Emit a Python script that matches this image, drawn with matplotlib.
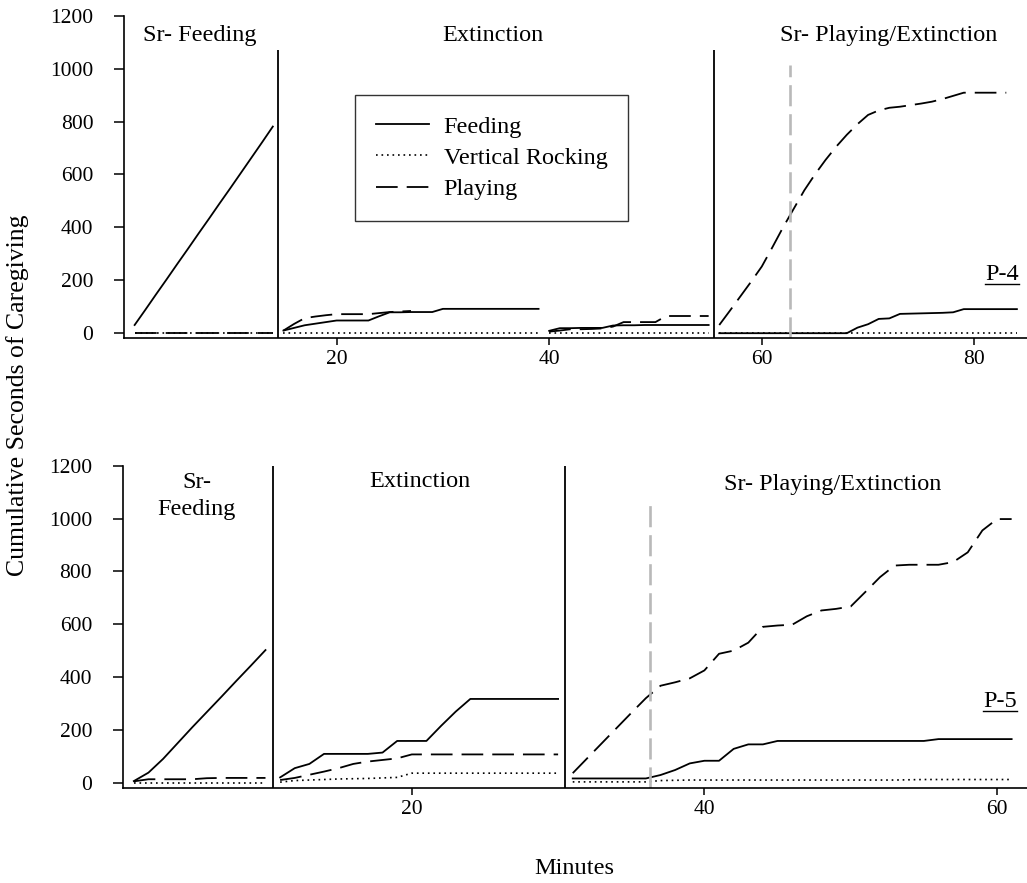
import numpy as np
import matplotlib
matplotlib.use('Agg')
import matplotlib.pyplot as plt
from matplotlib.lines import Line2D

plt.rcParams['font.family'] = ['Liberation Serif', 'DejaVu Serif']

# ------------------------------------------------------------------ data
series_names = ['Feeding', 'Vertical Rocking', 'Playing']
phase_labels_p4 = ['Sr- Feeding', 'Extinction', 'Sr- Playing/Extinction']
phase_labels_p5 = ['Sr-\nFeeding', 'Extinction', 'Sr- Playing/Extinction']
y_ticks = [0, 200, 400, 600, 800, 1000, 1200]
p4_x_ticks = [20, 40, 60, 80]
p5_x_ticks = [20, 40, 60]

# ---- P-4 ----
p4_min_srfeed = [1, 2, 3, 4, 5, 6, 7, 8, 9, 10, 11, 12, 13, 14]
p4_feed_srfeed = [31, 88, 146, 203, 261, 318, 376, 433, 491, 548, 606, 664, 722, 781]
p4_rock_srfeed = [0, 0, 0, 0, 0, 0, 0, 0, 0, 0, 0, 0, 0, 0]
p4_play_srfeed = [0, 0, 0, 0, 0, 0, 0, 0, 0, 0, 0, 0, 0, 0]

p4_min_ext1 = [15, 16, 17, 18, 19, 20, 21, 22, 23, 24, 25, 26, 27, 28, 29,
               30, 31, 32, 33, 34, 35, 36, 37, 38, 39]
p4_feed_ext1 = [10, 20, 30, 36, 42, 48, 48, 48, 48, 64, 79, 79, 80, 80, 80,
                92, 92, 92, 92, 92, 92, 92, 92, 92, 92]
p4_rock_ext1 = [0, 0, 0, 0, 0, 0, 0, 0, 0, 0, 0, 0, 0, 0, 0,
                0, 0, 0, 0, 0, 0, 0, 0, 0, 0]
p4_min_ext1_play = [15, 16, 17, 18, 19, 20, 21, 22, 23, 24, 25, 26, 27]
p4_play_ext1 = [10, 35, 57, 63, 68, 72, 72, 72, 72, 76, 80, 82, 84]

p4_min_ext2 = [40, 41, 42, 43, 44, 45, 46, 47, 48, 49, 50, 51, 52, 53, 54, 55]
p4_feed_ext2 = [9, 19, 19, 20, 20, 20, 29, 30, 30, 31, 31, 31, 31, 31, 31, 31]
p4_rock_ext2 = [0, 0, 0, 0, 0, 0, 0, 0, 0, 0, 0, 0, 0, 0, 0, 0]
p4_play_ext2 = [6, 10, 15, 15, 16, 18, 25, 42, 42, 42, 42, 65, 65, 65, 65, 65]

p4_min_srplay = [56, 57, 58, 59, 60, 61, 62, 63, 64, 65, 66, 67, 68, 69, 70,
                 71, 72, 73, 74, 75, 76, 77, 78, 79, 80, 81, 82, 83, 84]
p4_feed_srplay = [0, 0, 0, 0, 0, 0, 0, 0, 0, 0, 0, 0, 0, 21, 34,
                  54, 56, 73, 74, 75, 76, 77, 79, 91, 91, 91, 91, 91, 91]
p4_rock_srplay = [0, 0, 0, 0, 0, 0, 0, 0, 0, 0, 0, 0, 0, 0, 0,
                  0, 0, 0, 0, 0, 0, 0, 0, 0, 0, 0, 0, 0, 0]
p4_min_srplay_play = [56, 57, 58, 59, 60, 61, 62, 63, 64, 65, 66, 67, 68, 69,
                      70, 71, 72, 73, 74, 75, 76, 77, 78, 79, 80, 81, 82, 83]
p4_play_srplay = [31, 85, 140, 195, 252, 325, 400, 470, 540, 600, 655, 705, 750, 790,
                  825, 842, 852, 856, 862, 868, 875, 885, 897, 909, 909, 909, 909, 909]

p4_phase_changes = [14.5, 55.5]
p4_criterion = 62.7

# ---- P-5 ----
p5_min_srfeed = [1, 2, 3, 4, 5, 6, 7, 8, 9, 10]
p5_feed_srfeed = [6, 38, 90, 150, 210, 268, 326, 385, 443, 502]
p5_rock_srfeed = [0, 0, 0, 0, 0, 0, 0, 0, 0, 0]
p5_play_srfeed = [5, 13, 13, 13, 13, 17, 18, 18, 18, 18]

p5_min_ext = [11, 12, 13, 14, 15, 16, 17, 18, 19, 20,
              21, 22, 23, 24, 25, 26, 27, 28, 29, 30]
p5_feed_ext = [20, 55, 71, 109, 109, 109, 109, 114, 158, 158,
               158, 215, 269, 317, 317, 317, 317, 317, 317, 317]
p5_rock_ext = [2, 8, 10, 12, 14, 15, 16, 18, 20, 36,
               36, 36, 36, 36, 36, 36, 36, 36, 36, 36]
p5_play_ext = [10, 18, 30, 42, 55, 71, 80, 86, 92, 107,
               107, 107, 107, 107, 107, 107, 107, 107, 107, 107]

p5_min_srplay = [31, 32, 33, 34, 35, 36, 37, 38, 39, 40, 41, 42, 43, 44, 45, 46,
                 47, 48, 49, 50, 51, 52, 53, 54, 55, 56, 57, 58, 59, 60, 61]
p5_feed_srplay = [16, 16, 16, 16, 16, 16, 29, 48, 73, 83, 83, 128, 145, 145, 158, 158,
                  158, 158, 158, 158, 158, 158, 158, 158, 158, 165, 165, 165, 165, 165, 165]
p5_rock_srplay = [3, 3, 3, 3, 3, 3, 8, 9, 10, 10, 10, 10, 10, 10, 10, 10,
                  10, 10, 10, 10, 10, 10, 10, 11, 12, 12, 12, 12, 12, 12, 12]
p5_play_srplay = [36, 93, 150, 207, 264, 320, 367, 380, 395, 425, 488, 500, 530, 590, 595, 598,
                  630, 652, 658, 667, 722, 778, 822, 825, 825, 825, 835, 872, 955, 998, 998]

p5_phase_changes = [10.5, 30.5]
p5_criterion = 36.3

# ------------------------------------------------------------------ styles
STY = {
    'Feeding': dict(color='black', lw=1.3, ls='-'),
    'Vertical Rocking': dict(color='black', lw=1.2, ls=(0, (1, 2.3))),
    'Playing': dict(color='black', lw=1.3, ls=(0, (12, 5))),
}
GRAY = dict(color='#b9b9b9', lw=1.9, ls=(0, (8, 3)))
TXT = 17.5
TICK = 15.5

fig = plt.figure(figsize=(10.27, 8.83), dpi=100)
W, H = 1027, 883


def make_axes(left_px, top_px, bottom_px):
    ax = fig.add_axes([left_px / W, 1 - bottom_px / H, (W - left_px) / W,
                       (bottom_px - top_px) / H])
    for s in ['top', 'right']:
        ax.spines[s].set_visible(False)
    for s in ['left', 'bottom']:
        ax.spines[s].set_linewidth(1.2)
    ax.tick_params(axis='y', direction='out', length=7, width=1.1, pad=15,
                   labelsize=TICK)
    ax.tick_params(axis='x', direction='out', length=5, width=1.1, pad=4,
                   labelsize=TICK)
    ax.set_yticks(y_ticks)
    return ax


def draw(ax, x, y, name):
    ax.plot(x, y, **STY[name])


# ---- top panel (P-4) ----
ax1 = make_axes(124, 15.7, 337.7)
ax1.set_xlim(0, 84.95)
ax1.set_ylim(-17, 1200)
ax1.set_xticks(p4_x_ticks)

draw(ax1, p4_min_srfeed, p4_rock_srfeed, 'Vertical Rocking')
draw(ax1, p4_min_srfeed, p4_play_srfeed, 'Playing')
draw(ax1, p4_min_srfeed, p4_feed_srfeed, 'Feeding')
draw(ax1, p4_min_ext1, p4_rock_ext1, 'Vertical Rocking')
draw(ax1, p4_min_ext1_play, p4_play_ext1, 'Playing')
draw(ax1, p4_min_ext1, p4_feed_ext1, 'Feeding')
draw(ax1, p4_min_ext2, p4_rock_ext2, 'Vertical Rocking')
draw(ax1, p4_min_ext2, p4_play_ext2, 'Playing')
draw(ax1, p4_min_ext2, p4_feed_ext2, 'Feeding')
draw(ax1, p4_min_srplay, p4_rock_srplay, 'Vertical Rocking')
draw(ax1, p4_min_srplay_play, p4_play_srplay, 'Playing')
draw(ax1, p4_min_srplay, p4_feed_srplay, 'Feeding')

ax1.vlines(p4_phase_changes, -17, 1070, color='black', lw=1.3)
ax1.vlines([p4_criterion], -17, 1015, **GRAY)

ax1.text(7.15, 1125, phase_labels_p4[0], ha='center', va='center', fontsize=TXT)
ax1.text(34.7, 1125, phase_labels_p4[1], ha='center', va='center', fontsize=TXT)
ax1.text(71.9, 1125, phase_labels_p4[2], ha='center', va='center', fontsize=TXT)
lab4 = ax1.text(82.6, 220, 'P-4', ha='center', va='center', fontsize=TXT)

# ---- bottom panel (P-5) ----
ax2 = make_axes(122.7, 465.7, 787.7)
ax2.set_xlim(0.24, 62.05)
ax2.set_ylim(-19, 1200)
ax2.set_xticks(p5_x_ticks)

draw(ax2, p5_min_srfeed, p5_rock_srfeed, 'Vertical Rocking')
draw(ax2, p5_min_srfeed, p5_play_srfeed, 'Playing')
draw(ax2, p5_min_srfeed, p5_feed_srfeed, 'Feeding')
draw(ax2, p5_min_ext, p5_rock_ext, 'Vertical Rocking')
draw(ax2, p5_min_ext, p5_play_ext, 'Playing')
draw(ax2, p5_min_ext, p5_feed_ext, 'Feeding')
draw(ax2, p5_min_srplay, p5_rock_srplay, 'Vertical Rocking')
draw(ax2, p5_min_srplay, p5_play_srplay, 'Playing')
draw(ax2, p5_min_srplay, p5_feed_srplay, 'Feeding')

ax2.vlines(p5_phase_changes, -19, 1200, color='black', lw=1.3)
ax2.vlines([p5_criterion], -19, 1052, **GRAY)

ax2.text(5.3, 1085, phase_labels_p5[0], ha='center', va='center', fontsize=TXT,
         linespacing=1.35)
ax2.text(20.55, 1139, phase_labels_p5[1], ha='center', va='center', fontsize=TXT)
ax2.text(48.8, 1127, phase_labels_p5[2], ha='center', va='center', fontsize=TXT)
lab5 = ax2.text(60.2, 307, 'P-5', ha='center', va='center', fontsize=TXT)

# ---- shared labels ----
fig.text(18 / W, 1 - 395 / H, 'Cumulative Seconds of Caregiving', rotation=90,
         ha='center', va='center', fontsize=18.5)
fig.text(574 / W, 1 - 868 / H, 'Minutes', ha='center', va='center', fontsize=TXT)

# ---- legend ----
handles = [Line2D([], [], **STY[n]) for n in series_names]
fig.legend(handles, series_names, loc='upper left',
           bbox_to_anchor=(355 / W, 1 - 95 / H), borderaxespad=0,
           fontsize=TXT, frameon=True, fancybox=False, edgecolor='#333333',
           handlelength=2.2, handletextpad=0.6, labelspacing=0.38,
           borderpad=0.85, framealpha=1)
fig.legends[0].get_frame().set_linewidth(1.0)

# ---- underline the participant labels ----
fig.canvas.draw()
renderer = fig.canvas.get_renderer()
inv = fig.transFigure.inverted()
for t in (lab4, lab5):
    bb = t.get_window_extent(renderer)
    (x0, y0) = inv.transform((bb.x0, bb.y0 + 1))
    (x1, _) = inv.transform((bb.x1, bb.y0 + 1))
    fig.add_artist(Line2D([x0, x1], [y0, y0], transform=fig.transFigure,
                          color='black', lw=1.0))

fig.savefig('out.png', dpi=100)
